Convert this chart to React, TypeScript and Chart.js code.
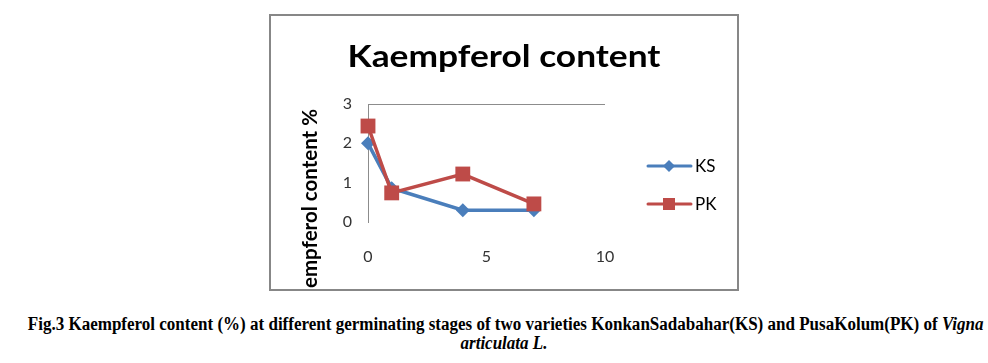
import React, { useEffect, useRef } from "react";
import { Chart, registerables } from "chart.js";
Chart.register(...registerables);

const stages = [0, 1, 4, 7];
const ksValues = [2.0, 0.86, 0.3, 0.3];
const pkValues = [2.44, 0.74, 1.22, 0.46];
const seriesNames = ["KS", "PK"];
const seriesColors = ["#4A7EBB", "#BE4B48"];
const titleText = "Kaempferol content";
const yTitleText = "Kaempferol content %";
const xTickValues = [0, 5, 10];
const yTickValues = [0, 1, 2, 3];
const captionLine1 =
  "Fig.3 Kaempferol content (%) at different germinating stages of two varieties KonkanSadabahar(KS) and PusaKolum(PK) of ";
const captionItalic1 = "Vigna";
const captionItalic2 = "articulata L.";

const W = 470;
const H = 277;

const decor = {
  id: "decor",
  afterDraw(chart: any) {
    const ctx = chart.ctx as CanvasRenderingContext2D;
    ctx.save();
    // title
    ctx.fillStyle = "#000";
    ctx.font = "bold 30px Lato";
    ctx.textAlign = "center";
    ctx.textBaseline = "alphabetic";
    const tw = ctx.measureText(titleText).width;
    ctx.save();
    ctx.translate(235, 53);
    ctx.scale(313 / tw, 1);
    ctx.fillText(titleText, 0, 0);
    ctx.restore();
    // y title
    ctx.save();
    ctx.translate(41, 95);
    ctx.rotate(-Math.PI / 2);
    ctx.font = "bold 20.5px Lato";
    ctx.textAlign = "right";
    ctx.textBaseline = "middle";
    ctx.fillText(yTitleText, 0, 0);
    ctx.restore();
    // legend
    const ys = [152, 190];
    for (let i = 0; i < 2; i++) {
      const y = ys[i];
      ctx.strokeStyle = seriesColors[i];
      ctx.fillStyle = seriesColors[i];
      ctx.lineWidth = 3;
      ctx.lineCap = "round";
      ctx.beginPath();
      ctx.moveTo(379, y);
      ctx.lineTo(422, y);
      ctx.stroke();
      const cx = 400;
      if (i === 0) {
        ctx.beginPath();
        ctx.moveTo(cx, y - 6);
        ctx.lineTo(cx + 6, y);
        ctx.lineTo(cx, y + 6);
        ctx.lineTo(cx - 6, y);
        ctx.closePath();
        ctx.fill();
      } else {
        ctx.fillRect(cx - 6, y - 6, 12, 12);
      }
      ctx.fillStyle = "#000";
      ctx.font = "17px Lato";
      ctx.textAlign = "left";
      ctx.textBaseline = "middle";
      ctx.fillText(seriesNames[i], 426, y + 1);
    }
    // border
    ctx.strokeStyle = "#878787";
    ctx.lineWidth = 2;
    ctx.strokeRect(1, 1, chart.width - 2, chart.height - 2);
    ctx.restore();
  },
};

export default function App() {
  const ref = useRef<HTMLCanvasElement | null>(null);
  useEffect(() => {
    if (!ref.current) return;
    const chart = new Chart(ref.current, {
      type: "scatter",
      data: {
        datasets: [
          {
            label: seriesNames[0],
            data: stages.map((x, i) => ({ x, y: ksValues[i] })),
            showLine: true,
            borderColor: seriesColors[0],
            backgroundColor: seriesColors[0],
            borderWidth: 3.5,
            pointStyle: "rectRot",
            pointRadius: 7,
            pointBorderWidth: 0,
            order: 1,
            clip: false,
          } as any,
          {
            label: seriesNames[1],
            data: stages.map((x, i) => ({ x, y: pkValues[i] })),
            showLine: true,
            borderColor: seriesColors[1],
            backgroundColor: seriesColors[1],
            borderWidth: 3.5,
            pointStyle: "rect",
            pointRadius: 10.5,
            pointBorderWidth: 0,
            order: 0,
            clip: false,
          } as any,
        ],
      },
      options: {
        animation: false,
        responsive: false,
        maintainAspectRatio: false,
        layout: { padding: { top: 90, right: W - 336, left: 0, bottom: 0 } },
        plugins: { legend: { display: false }, tooltip: { enabled: false }, title: { display: false } },
        scales: {
          x: {
            type: "linear",
            min: 0,
            max: 10,
            afterFit: (s: any) => {
              s.height = H - 208;
            },
            afterBuildTicks: (s: any) => {
              s.ticks = xTickValues.map((v) => ({ value: v }));
            },
            border: { display: false },
            grid: { display: false, drawTicks: false },
            ticks: { padding: 25, color: "#333", font: { family: "Lato", size: 16 }, maxRotation: 0 },
          },
          y: {
            type: "linear",
            min: 0,
            max: 3,
            afterFit: (s: any) => {
              s.width = 99;
            },
            afterBuildTicks: (s: any) => {
              s.ticks = yTickValues.map((v) => ({ value: v }));
            },
            border: { display: true, color: "#8c8c8c", width: 1 },
            grid: {
              drawTicks: false,
              color: (c: any) => (c.tick && c.tick.value === 3 ? "#8c8c8c" : "rgba(0,0,0,0)"),
              lineWidth: 1,
            },
            ticks: { padding: 16, color: "#333", font: { family: "Lato", size: 16 } },
          },
        },
      } as any,
      plugins: [decor],
    });
    return () => chart.destroy();
  }, []);

  const lineStyle: React.CSSProperties = {
    display: "inline-block",
    whiteSpace: "nowrap",
    transform: "scaleX(0.945)",
    transformOrigin: "center",
  };

  return (
    <div>
      <canvas
        ref={ref}
        width={W}
        height={H}
        style={{ position: "absolute", left: 269, top: 14, width: W, height: H }}
      />
      <div
        style={{
          position: "absolute",
          left: 0,
          top: 315,
          width: 1008,
          textAlign: "center",
          fontFamily: "'Liberation Serif', 'Times New Roman', serif",
          fontWeight: "bold",
          fontSize: 18,
          lineHeight: "19px",
          color: "#000",
        }}
      >
        <div style={lineStyle}>
          {captionLine1}
          <i>{captionItalic1}</i>
        </div>
        <br />
        <div style={lineStyle}>
          <i>{captionItalic2}</i>
        </div>
      </div>
    </div>
  );
}
